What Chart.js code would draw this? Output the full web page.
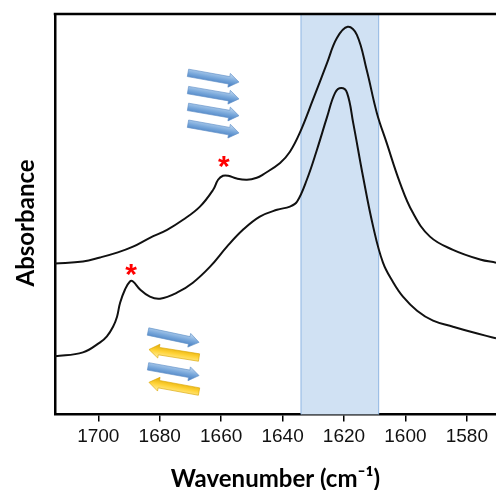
<!DOCTYPE html>
<html>
<head>
<meta charset="utf-8">
<script src="https://cdn.jsdelivr.net/npm/chart.js@4.4.1/dist/chart.umd.min.js"></script>
<style>
  html, body { margin: 0; padding: 0; background: #fff; }
  #wrap { width: 496px; height: 490px; }
</style>
</head>
<body>
<div id="wrap"><canvas id="irChart"></canvas></div>
<script>
// FTIR amide I region, two spectra (arbitrary units)

const xTicks = [1580, 1600, 1620, 1640, 1660, 1680, 1700];

const upperWn  = [1714.1, 1705.0, 1699.4, 1693.9, 1688.7, 1683.2, 1677.6, 1672.4, 1666.9, 1662.6, 1661.0, 1659.4, 1657.7, 1654.9, 1651.6, 1648.4, 1646.4, 1640.8, 1637.6, 1634.4, 1630.1, 1625.5, 1622.3, 1618.8, 1615.8, 1612.6, 1609.3, 1606.1, 1601.8, 1597.6, 1592.0, 1584.5, 1575.7, 1570.5];
const upperAbs = [37.7, 38.2, 39.2, 40.4, 41.9, 44.1, 46.1, 48.6, 51.9, 56.1, 58.6, 59.6, 59.6, 58.9, 58.6, 59.1, 59.9, 62.8, 65.6, 70.3, 78.6, 87.8, 94.0, 96.8, 94.8, 86.0, 75.3, 67.8, 57.9, 50.4, 44.4, 41.1, 38.7, 37.9];

const lowerWn  = [1714.1, 1705.0, 1699.4, 1697.2, 1695.2, 1693.9, 1692.9, 1691.3, 1689.7, 1688.7, 1686.4, 1683.2, 1679.9, 1674.4, 1669.2, 1663.6, 1658.1, 1652.9, 1647.4, 1641.8, 1637.6, 1635.3, 1632.1, 1628.8, 1625.5, 1622.9, 1620.9, 1619.0, 1617.0, 1613.8, 1610.5, 1607.3, 1604.0, 1600.8, 1596.2, 1591.0, 1584.5, 1579.0, 1570.5];
const lowerAbs = [14.5, 15.5, 18.0, 19.5, 21.9, 24.4, 27.9, 31.2, 33.2, 33.2, 31.2, 29.4, 28.9, 30.4, 32.9, 36.9, 41.9, 46.1, 49.4, 51.1, 51.9, 53.1, 58.6, 66.1, 74.3, 80.3, 81.5, 80.3, 72.8, 59.4, 46.9, 37.9, 33.0, 29.4, 25.9, 23.4, 21.9, 20.7, 19.0];

// highlighted band (cm-1)
const band = [1634, 1608.7];

// asterisks: [wavenumber, absorbance]
const stars = [[1659.1, 63.2], [1689.3, 36.2]];

// strand arrows: [wn tail, abs tail, wn tip, abs tip, colour]
const arrows = [
  [1670.8, 85.3, 1654.2, 83.0, 'blue'],
  [1670.8, 81.0, 1654.2, 78.8, 'blue'],
  [1670.8, 76.8, 1654.2, 74.6, 'blue'],
  [1670.8, 72.6, 1654.2, 70.3, 'blue'],
  [1683.8, 20.7, 1667.2, 18.0, 'blue'],
  [1667.2, 14.2, 1683.5, 16.2, 'yellow'],
  [1683.8, 12.0, 1667.2, 9.7, 'blue'],
  [1667.2, 5.7, 1683.5, 8.0, 'yellow']
];

const toPts = (xs, ys) => xs.map((x, i) => ({ x, y: ys[i] }));

function drawArrow(ctx, x1, y1, x2, y2, kind){
  const len = Math.hypot(x2 - x1, y2 - y1);
  const ang = Math.atan2(y2 - y1, x2 - x1);
  const t = 7.5, hw = 7, hl = 10;
  ctx.save();
  ctx.translate(x1, y1);
  ctx.rotate(ang);
  const g = ctx.createLinearGradient(0, -hw, 0, hw);
  if (kind === 'blue'){ g.addColorStop(0, '#c5dcf3'); g.addColorStop(0.5, '#79a8db'); g.addColorStop(1, '#3f78bd'); }
  else { g.addColorStop(0, '#fff0a8'); g.addColorStop(0.5, '#ffd338'); g.addColorStop(1, '#e0a800'); }
  ctx.beginPath();
  ctx.moveTo(0, -t/2);
  ctx.lineTo(len - hl, -t/2);
  ctx.lineTo(len - hl, -hw);
  ctx.lineTo(len, 0);
  ctx.lineTo(len - hl, hw);
  ctx.lineTo(len - hl, t/2);
  ctx.lineTo(0, t/2);
  ctx.closePath();
  ctx.fillStyle = g;
  ctx.fill();
  ctx.lineWidth = 0.6;
  ctx.strokeStyle = kind === 'blue' ? '#5f8fc6' : '#d9a400';
  ctx.stroke();
  ctx.restore();
}

const decorPlugin = {
  id: 'decor',
  beforeDatasetsDraw(chart){
    const { ctx, chartArea: a, scales: { x } } = chart;
    const x1 = x.getPixelForValue(band[0]), x2 = x.getPixelForValue(band[1]);
    ctx.save();
    ctx.fillStyle = '#d0e1f3';
    ctx.fillRect(x1, a.top, x2 - x1, a.bottom - a.top);
    ctx.strokeStyle = '#8fb6e3';
    ctx.lineWidth = 1;
    ctx.beginPath();
    ctx.moveTo(x1, a.top); ctx.lineTo(x1, a.bottom);
    ctx.moveTo(x2, a.top); ctx.lineTo(x2, a.bottom);
    ctx.stroke();
    ctx.restore();
  },
  afterDatasetsDraw(chart){
    const { ctx, chartArea: a, scales: { x, y } } = chart;
    ctx.save();
    // top frame line
    ctx.strokeStyle = '#000';
    ctx.lineWidth = 2.5;
    ctx.beginPath();
    ctx.moveTo(a.left - 1.25, a.top);
    ctx.lineTo(a.right, a.top);
    ctx.stroke();
    // asterisks
    ctx.fillStyle = '#ff0000';
    ctx.font = 'bold 30px "Liberation Sans"';
    ctx.textAlign = 'center';
    ctx.textBaseline = 'middle';
    stars.forEach(([wn, v]) => ctx.fillText('*', x.getPixelForValue(wn), y.getPixelForValue(v) + 6));
    // arrows
    arrows.forEach(([w1, v1, w2, v2, k]) => drawArrow(ctx, x.getPixelForValue(w1), y.getPixelForValue(v1), x.getPixelForValue(w2), y.getPixelForValue(v2), k));
    ctx.restore();
  }
};

const lineStyle = { borderColor: '#111', borderWidth: 2, pointRadius: 0, fill: false, showLine: true, tension: 0.4 };

new Chart(document.getElementById('irChart'), {
  type: 'scatter',
  data: {
    datasets: [
      Object.assign({ label: 'upper', data: toPts(upperWn, upperAbs) }, lineStyle),
      Object.assign({ label: 'lower', data: toPts(lowerWn, lowerAbs) }, lineStyle)
    ]
  },
  options: {
    responsive: true,
    maintainAspectRatio: false,
    animation: false,
    layout: { padding: { top: 14, left: 7, right: 0, bottom: 0 } },
    plugins: { legend: { display: false }, tooltip: { enabled: false } },
    scales: {
      x: {
        type: 'linear',
        reverse: true,
        min: 1570.5,
        max: 1714.1,
        afterBuildTicks: (s) => { s.ticks = xTicks.map(v => ({ value: v })); },
        border: { display: true, color: '#000', width: 2.5 },
        grid: { display: true, drawOnChartArea: false, drawTicks: true, tickLength: 7, color: '#000', lineWidth: 1.5 },
        ticks: { color: '#111', padding: 4, font: { family: '"Liberation Sans", Arial', size: 19 }, callback: (v) => String(v) },
        title: { display: true, text: 'Wavenumber (cm⁻¹)', color: '#000', padding: { top: 13, bottom: -4 }, font: { family: 'Lato', weight: 'bold', size: 24 } }
      },
      y: {
        min: 0,
        max: 100,
        border: { display: true, color: '#000', width: 2.5 },
        grid: { display: false, drawTicks: false },
        ticks: { display: false },
        // trailing spaces nudge the rotated label down, as in the figure
        title: { display: true, text: 'Absorbance\u00A0\u00A0\u00A0', color: '#000', padding: { top: 4.6, bottom: 14.6 }, font: { family: 'Lato', weight: 'bold', size: 24 } }
      }
    }
  },
  plugins: [decorPlugin]
});
</script>
</body>
</html>
